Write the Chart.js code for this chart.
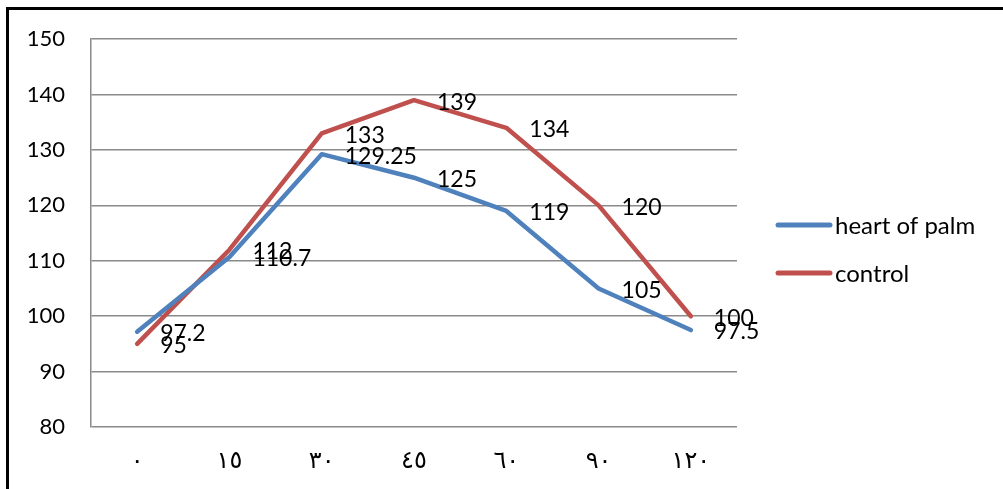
<!DOCTYPE html>
<html>
<head>
<meta charset="utf-8">
<script src="https://cdn.jsdelivr.net/npm/chart.js@4/dist/chart.umd.min.js"></script>
<style>
    html, body { margin: 0; padding: 0; background: #fff; }
    #wrap { position: relative; width: 1003px; height: 489px; overflow: hidden; }
    #frame {
        position: absolute; left: 6px; top: 7px; right: -10px; bottom: -10px;
        border-top: 3px solid #000; border-left: 3px solid #000;
        pointer-events: none;
    }
    canvas { position: absolute; left: 0; top: 0; }
</style>
</head>
<body>
<div id="wrap">
    <canvas id="chart" width="1003" height="489"></canvas>
    <div id="frame"></div>
</div>
<script>
// time points (minutes), shown with Arabic-Indic digits
const categories = ['٠', '١٥', '٣٠', '٤٥', '٦٠', '٩٠', '١٢٠'];
const heartOfPalm = [97.2, 110.7, 129.25, 125, 119, 105, 97.5];
const control = [95, 112, 133, 139, 134, 120, 100];
const yTicks = [80, 90, 100, 110, 120, 130, 140, 150];

const FAMILY = 'Lato, "Open Sans", sans-serif';
const GRID = '#8a8a8a';

// value labels to the right of each point
const valueLabels = {
    id: 'valueLabels',
    afterDatasetsDraw(chart) {
        const ctx = chart.ctx;
        ctx.save();
        ctx.font = '23px ' + FAMILY;
        ctx.fillStyle = '#000';
        ctx.textAlign = 'left';
        ctx.textBaseline = 'middle';
        chart.data.datasets.forEach((ds, i) => {
            chart.getDatasetMeta(i).data.forEach((pt, j) => {
                ctx.fillText(String(ds.data[j]), pt.x + 23, pt.y + 2);
            });
        });
        ctx.restore();
    }
};

// legend on the right: line swatch + label
const sideLegend = {
    id: 'sideLegend',
    afterDraw(chart) {
        const ctx = chart.ctx;
        const x0 = 778, x1 = 830;
        const rows = [225, 273];
        ctx.save();
        ctx.font = '24px ' + FAMILY;
        ctx.textAlign = 'left';
        ctx.textBaseline = 'middle';
        chart.data.datasets.forEach((ds, i) => {
            const y = rows[i];
            ctx.strokeStyle = ds.borderColor;
            ctx.lineWidth = 5;
            ctx.lineCap = 'round';
            ctx.beginPath();
            ctx.moveTo(x0, y);
            ctx.lineTo(x1, y);
            ctx.stroke();
            ctx.fillStyle = '#000';
            ctx.fillText(ds.label, x1 + 5, y + 1);
        });
        ctx.restore();
    }
};

new Chart(document.getElementById('chart'), {
    type: 'line',
    data: {
        labels: categories,
        datasets: [
            {
                label: 'heart of palm',
                data: heartOfPalm,
                borderColor: '#4f81bd',
                borderWidth: 4.5,
                pointRadius: 0,
                tension: 0,
                borderJoinStyle: 'round',
                borderCapStyle: 'round'
            },
            {
                label: 'control',
                data: control,
                borderColor: '#c0504d',
                borderWidth: 4.5,
                pointRadius: 0,
                tension: 0,
                borderJoinStyle: 'round',
                borderCapStyle: 'round'
            }
        ]
    },
    options: {
        responsive: false,
        animation: false,
        layout: { padding: { left: 0, right: 266, top: 37, bottom: 0 } },
        plugins: {
            legend: { display: false },
            tooltip: { enabled: false }
        },
        scales: {
            x: {
                offset: true,
                grid: { display: false },
                border: { display: false },
                ticks: {
                    color: '#000',
                    font: { family: '"DejaVu Sans", sans-serif', size: 24 },
                    padding: 12,
                    maxRotation: 0
                },
                afterFit(scale) { scale.height = 62; }
            },
            y: {
                min: 80,
                max: 150,
                afterBuildTicks(scale) {
                    scale.ticks = yTicks.map(v => ({ value: v }));
                },
                grid: { color: GRID, lineWidth: 1.5, drawTicks: false },
                border: { color: GRID, width: 1.5 },
                ticks: {
                    color: '#000',
                    font: { family: FAMILY, size: 22 },
                    padding: 26
                },
                afterFit(scale) { scale.width = 91; }
            }
        }
    },
    plugins: [valueLabels, sideLegend]
});
</script>
</body>
</html>
